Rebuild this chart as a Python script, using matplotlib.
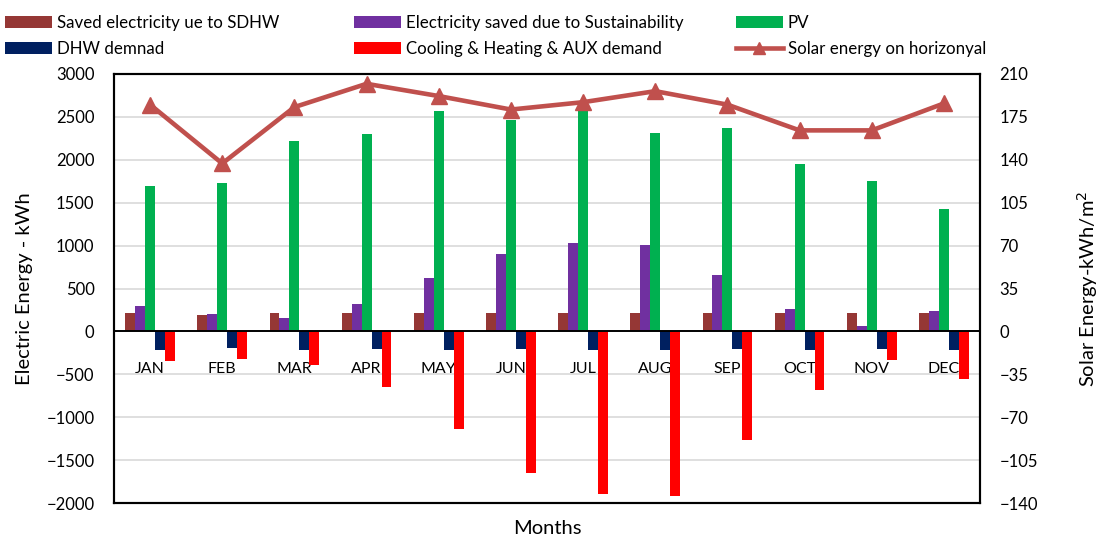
import matplotlib
matplotlib.use("Agg")
import matplotlib.pyplot as plt
from matplotlib.patches import Patch
from matplotlib.lines import Line2D
import numpy as np

plt.rcParams['font.family'] = ['Lato', 'DejaVu Sans']

months = ["JAN", "FEB", "MAR", "APR", "MAY", "JUN",
          "JUL", "AUG", "SEP", "OCT", "NOV", "DEC"]
saved_sdhw = [215, 195, 215, 210, 215, 210, 215, 215, 210, 215, 210, 215]
saved_sustain = [301, 200, 161, 320, 620, 900, 1030, 1010, 660, 262, 68, 239]
pv = [1700, 1730, 2220, 2305, 2565, 2460, 2570, 2315, 2370, 1955, 1750, 1425]
dhw_demand = [-212, -192, -212, -204, -212, -210, -212, -212, -205, -212, -210, -212]
cool_heat_aux = [-346, -318, -396, -647, -1136, -1653, -1890, -1921, -1261, -678, -338, -551]
solar_horiz = [185, 137, 183, 202, 192, 181, 187, 196, 185, 164, 164, 186]

labels = ["Saved electricity ue to SDHW",
          "Electricity saved due to Sustainability",
          "PV",
          "DHW demnad",
          "Cooling & Heating & AUX demand",
          "Solar energy on horizonyal"]
colors = ["#953735", "#7030A0", "#00B050", "#002060", "#FF0000"]
line_color = "#C0504D"

W, H = 1104, 541
fig = plt.figure(figsize=(W / 100, H / 100), dpi=100)
ax = fig.add_axes([114 / W, 1 - 503 / H, (980 - 114) / W, (503 - 74) / H])

x = np.arange(len(months))
bw = 0.138
series = [saved_sdhw, saved_sustain, pv, dhw_demand, cool_heat_aux]
for i, (vals, c) in enumerate(zip(series, colors)):
    ax.bar(x + (i - 2) * bw, vals, width=bw, color=c, zorder=2, linewidth=0)

ax.set_xlim(-0.5, len(months) - 0.5)
ax.set_ylim(-2000, 3000)
ax.set_yticks(np.arange(-2000, 3001, 500))
ax.yaxis.grid(True, color="#D9D9D9", linewidth=1.2, zorder=0)
ax.set_axisbelow(True)
ax.axhline(0, color="black", linewidth=1.4, zorder=2.5)
ax.set_xticks([])
ax.tick_params(axis='y', length=0, pad=14, labelsize=12)
for s in ax.spines.values():
    s.set_linewidth(1.5)
    s.set_color("black")

for xi, m in zip(x, months):
    ax.annotate(m, xy=(xi, 0), xytext=(0, -31), textcoords="offset pixels",
                ha="center", va="top", fontsize=11.5, zorder=1)

ax.set_ylabel("Electric Energy - kWh", fontsize=14.5, labelpad=10)
ax.set_xlabel("Months", fontsize=14.5, labelpad=12)

ax2 = ax.twinx()
ax2.plot(x, solar_horiz, color=line_color, linewidth=3.3, marker="^",
         markersize=11, zorder=5)
ax2.set_ylim(-140, 210)
ax2.set_yticks(np.arange(-140, 211, 35))
ax2.tick_params(axis='y', length=0, pad=14, labelsize=12)
for s in ax2.spines.values():
    s.set_linewidth(1.5)
ax2.set_ylabel("Solar Energy-kWh/m$^2$", fontsize=14.5, ha="center", va="center")
ax2.yaxis.set_label_coords((1088 - 114) / (980 - 114), 0.5)

bar_handles = [Patch(facecolor=c) for c in colors]
line_handle = Line2D([], [], color=line_color, linewidth=3.3, marker="^", markersize=8)

legend_cols = [
    ([bar_handles[0], bar_handles[3]], [labels[0], labels[3]], 5),
    ([bar_handles[1], bar_handles[4]], [labels[1], labels[4]], 354),
    ([bar_handles[2], line_handle], [labels[2], labels[5]], 736),
]
for hs, ls, px in legend_cols:
    fig.legend(hs, ls, loc="upper left", bbox_to_anchor=(px / W, 1 - 15 / H),
               frameon=False, borderpad=0, borderaxespad=0, fontsize=12.2,
               handlelength=2.75, handleheight=0.7, handletextpad=0.3,
               labelspacing=0.58, numpoints=1)

fig.savefig("out.png", dpi=100)
